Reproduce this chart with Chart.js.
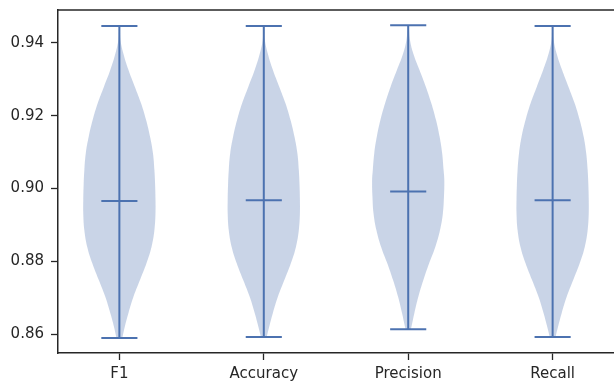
<!DOCTYPE html>
<html>
<head>
<meta charset="utf-8">
<script src="https://cdn.jsdelivr.net/npm/chart.js@4/dist/chart.umd.min.js"></script>
<style>
  html, body { margin: 0; padding: 0; background: #ffffff; }
  #c { display: block; }
</style>
</head>
<body>
<canvas id="c" width="614" height="383"></canvas>
<script>
// Metrics shown as violins
const categories = ['F1', 'Accuracy', 'Precision', 'Recall'];
const maxValues  = [0.9446, 0.9446, 0.9448, 0.9446];
const minValues  = [0.8590, 0.8593, 0.8614, 0.8593];
const meanValues = [0.8966, 0.8968, 0.8992, 0.8968];
const yTicks = [0.86, 0.88, 0.90, 0.92, 0.94];

// Density outline of each violin: score level and relative half-width (1 = widest)
const f1Levels = [0.8590, 0.8621, 0.8658, 0.8703, 0.8749, 0.8795, 0.8840, 0.8886, 0.8932, 0.8970, 0.9010,
                  0.9051, 0.9097, 0.9142, 0.9188, 0.9234, 0.9279, 0.9326, 0.9371, 0.9407, 0.9446];
const f1Density = [0.08, 0.15, 0.25, 0.39, 0.57, 0.75, 0.89, 0.97, 1.00, 1.00, 0.99,
                   0.97, 0.93, 0.85, 0.74, 0.60, 0.43, 0.25, 0.11, 0.03, 0.01];

const accuracyLevels = [0.8593, 0.8621, 0.8658, 0.8703, 0.8749, 0.8795, 0.8840, 0.8886, 0.8932, 0.8970, 0.9010,
                        0.9051, 0.9097, 0.9142, 0.9188, 0.9234, 0.9279, 0.9326, 0.9371, 0.9407, 0.9446];
const accuracyDensity = [0.08, 0.15, 0.25, 0.39, 0.57, 0.75, 0.89, 0.97, 1.00, 1.00, 0.99,
                         0.97, 0.93, 0.85, 0.74, 0.60, 0.43, 0.25, 0.11, 0.03, 0.01];

const precisionLevels = [0.8614, 0.8621, 0.8658, 0.8703, 0.8749, 0.8795, 0.8840, 0.8886, 0.8932, 0.8977, 0.9023,
                         0.9051, 0.9097, 0.9142, 0.9188, 0.9234, 0.9279, 0.9326, 0.9371, 0.9407, 0.9448];
const precisionDensity = [0.07, 0.09, 0.17, 0.28, 0.42, 0.58, 0.75, 0.88, 0.96, 0.99, 1.00,
                          0.98, 0.94, 0.87, 0.77, 0.64, 0.49, 0.31, 0.14, 0.05, 0.01];

const recallLevels = [0.8593, 0.8621, 0.8658, 0.8703, 0.8749, 0.8795, 0.8840, 0.8886, 0.8932, 0.8970, 0.9010,
                      0.9051, 0.9097, 0.9142, 0.9188, 0.9234, 0.9279, 0.9326, 0.9371, 0.9407, 0.9446];
const recallDensity = [0.08, 0.15, 0.25, 0.39, 0.57, 0.75, 0.89, 0.97, 1.00, 1.00, 0.99,
                       0.97, 0.93, 0.86, 0.75, 0.61, 0.44, 0.26, 0.11, 0.03, 0.01];

const outlineLevels = [f1Levels, accuracyLevels, precisionLevels, recallLevels];
const outlineDensity = [f1Density, accuracyDensity, precisionDensity, recallDensity];

// Styling
const LINE_COLOR = '#4c72b0';
const BODY_COLOR = 'rgba(76, 114, 176, 0.30)';
const AXIS_COLOR = '#262626';
const HALF_WIDTH = 0.25;   // half of the violin width, in x units
const CAP_HALF = 0.125;    // half length of the extrema / mean bars

function segment(x0, x1, y0, y1) {
  return {
    data: [{ x: x0, y: y0 }, { x: x1, y: y1 }],
    showLine: true,
    borderColor: LINE_COLOR,
    borderWidth: 2,
    borderCapStyle: 'butt',
    pointRadius: 0,
    fill: false,
    tension: 0
  };
}

const lineSets = [];
const bodySets = [];
categories.forEach((name, i) => {
  const pos = i + 1;
  lineSets.push(segment(pos, pos, minValues[i], maxValues[i]));
  lineSets.push(segment(pos - CAP_HALF, pos + CAP_HALF, maxValues[i], maxValues[i]));
  lineSets.push(segment(pos - CAP_HALF, pos + CAP_HALF, minValues[i], minValues[i]));
  lineSets.push(segment(pos - CAP_HALF, pos + CAP_HALF, meanValues[i], meanValues[i]));

  const lv = outlineLevels[i];
  const dn = outlineDensity[i];
  const pts = [];
  for (let k = 0; k < lv.length; k++) pts.push({ x: pos + dn[k] * HALF_WIDTH, y: lv[k] });
  for (let k = lv.length - 1; k >= 0; k--) pts.push({ x: pos - dn[k] * HALF_WIDTH, y: lv[k] });
  bodySets.push({
    label: name,
    data: pts,
    showLine: true,
    borderColor: 'rgba(0,0,0,0)',
    borderWidth: 1,
    backgroundColor: BODY_COLOR,
    pointRadius: 0,
    fill: 'shape',
    tension: 0.4
  });
});

// Top spine of the axes frame
const frameTop = {
  id: 'frameTop',
  afterDraw(chart) {
    const { ctx, chartArea } = chart;
    ctx.save();
    ctx.strokeStyle = AXIS_COLOR;
    ctx.lineWidth = 1.5;
    ctx.beginPath();
    ctx.moveTo(chartArea.left - 0.75, chartArea.top);
    ctx.lineTo(chartArea.right, chartArea.top);
    ctx.stroke();
    ctx.restore();
  }
};

const tickFont = { family: 'DejaVu Sans', size: 15 };

new Chart(document.getElementById('c'), {
  type: 'scatter',
  data: { datasets: lineSets.concat(bodySets) },
  options: {
    responsive: false,
    animation: false,
    devicePixelRatio: 1,
    events: [],
    layout: { padding: { top: 10, right: 0, left: 0, bottom: 0 } },
    plugins: { legend: { display: false }, tooltip: { enabled: false } },
    scales: {
      x: {
        type: 'linear',
        min: 0.575,
        max: 4.425,
        bounds: 'data',
        afterBuildTicks(scale) { scale.ticks = categories.map((c, i) => ({ value: i + 1 })); },
        afterFit(scale) {
          scale.height = 30;
          scale.paddingLeft = 0;
          scale.paddingRight = 0;
        },
        ticks: {
          callback: (v) => categories[Math.round(v) - 1],
          font: tickFont,
          color: AXIS_COLOR,
          padding: 5,
          maxRotation: 0,
          autoSkip: false
        },
        grid: { display: true, drawOnChartArea: false, drawTicks: true, tickLength: 7, tickColor: AXIS_COLOR, tickWidth: 1.3 },
        border: { display: true, color: AXIS_COLOR, width: 1.5 }
      },
      y: {
        type: 'linear',
        min: 0.8549,
        max: 0.9490,
        bounds: 'data',
        afterBuildTicks(scale) { scale.ticks = yTicks.map(v => ({ value: v })); },
        afterFit(scale) {
          scale.width = 58;
          scale.paddingTop = 0;
          scale.paddingBottom = 0;
        },
        ticks: {
          callback: (v) => v.toFixed(2),
          font: tickFont,
          color: AXIS_COLOR,
          padding: 7
        },
        grid: { display: true, drawOnChartArea: false, drawTicks: true, tickLength: 7, tickColor: AXIS_COLOR, tickWidth: 1.3 },
        border: { display: true, color: AXIS_COLOR, width: 1.5 }
      }
    }
  },
  plugins: [frameTop]
});
</script>
</body>
</html>
